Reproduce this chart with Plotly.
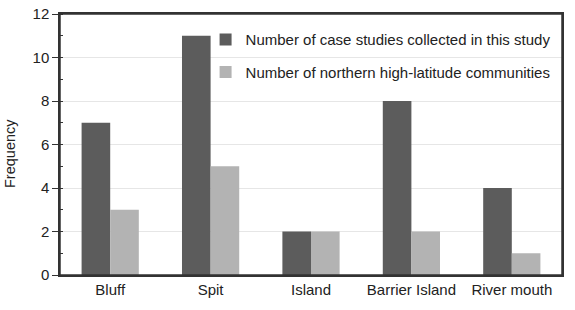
import plotly.graph_objects as go

categories = ["Bluff", "Spit", "Island", "Barrier Island", "River mouth"]
case_studies = [7, 11, 2, 8, 4]
communities = [3, 5, 2, 2, 1]
series_names = ["Number of case studies collected in this study",
                "Number of northern high-latitude communities"]
y_ticks = [0, 2, 4, 6, 8, 10, 12]

fig = go.Figure()
fig.add_bar(x=categories, y=case_studies, name=series_names[0],
            marker=dict(color="#5c5c5c", line=dict(width=0)), legendgroup="a")
fig.add_bar(x=categories, y=communities, name=series_names[1],
            marker=dict(color="#b3b3b3", line=dict(width=0)), legendgroup="b")

fig.update_layout(
    width=575, height=310,
    margin=dict(l=60, r=13, t=14, b=35),
    paper_bgcolor="white", plot_bgcolor="white",
    font=dict(family="Liberation Sans, Arial, sans-serif", size=15, color="#222"),
    barmode="group", bargap=0.43, bargroupgap=0,
    showlegend=True,
    legend=dict(x=0.29, y=0.965, xanchor="left", yanchor="top",
                bgcolor="rgba(0,0,0,0)", traceorder="grouped", tracegroupgap=10,
                font=dict(size=15), itemwidth=30),
    xaxis=dict(showline=True, linecolor="#333", linewidth=1.5, mirror=True,
               ticks="", tickfont=dict(size=15), automargin=False),
    yaxis=dict(range=[0, 12], tickvals=y_ticks, showgrid=True, gridcolor="#e6e6e6",
               showline=True, linecolor="#333", linewidth=1.5, mirror=True,
               ticks="outside", ticklen=6, tickcolor="#333", tickfont=dict(size=15),
               minor=dict(dtick=1, ticks="inside", ticklen=3, tickcolor="#333", showgrid=False),
               zeroline=False, automargin=False),
    annotations=[dict(text="Frequency", xref="paper", yref="paper",
                      x=(10 - 60) / 502, y=(275 - 154) / 261, textangle=-90,
                      showarrow=False, font=dict(size=14.5), xanchor="center", yanchor="middle")],
    shapes=[dict(type="rect", xref="paper", yref="paper", x0=0, x1=1, y0=0, y1=1,
                 line=dict(color="#333", width=1.5), layer="above")],
)
fig.write_html("out.html", config={"displayModeBar": False},
               post_script="document.body.style.margin='0';")
